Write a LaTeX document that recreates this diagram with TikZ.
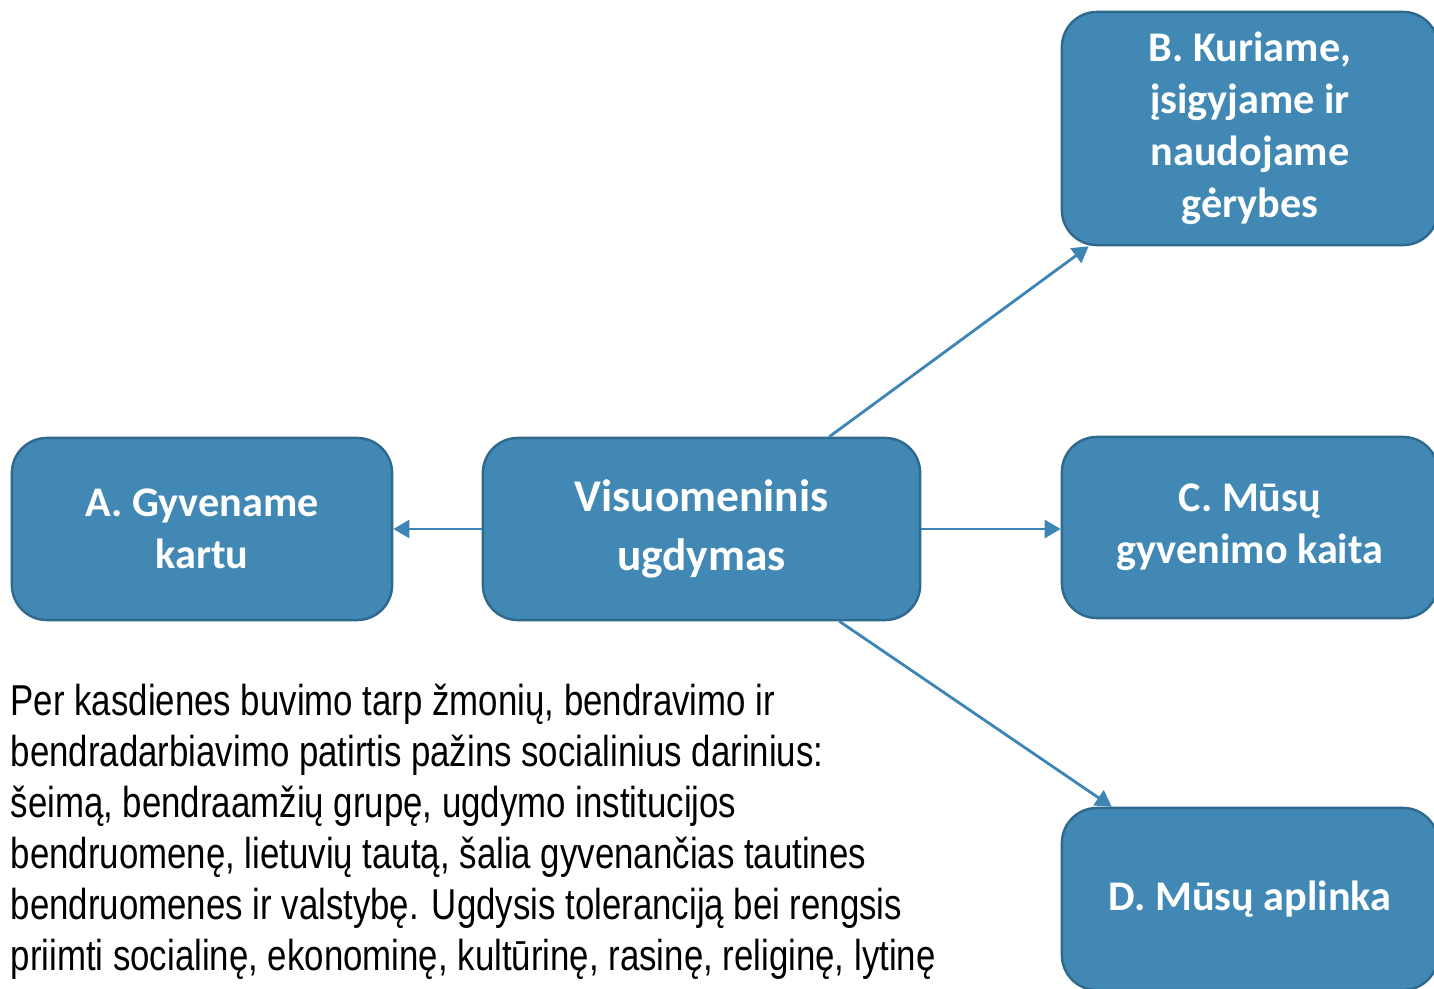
\documentclass[tikz,border=0pt]{standalone}
\usepackage{fontspec}
\setmainfont{Carlito}
\newfontfamily\narrowfont[FakeStretch=0.805]{Liberation Sans}
\usetikzlibrary{arrows.meta,positioning}
\definecolor{boxblue}{HTML}{4189B4}
\definecolor{boxedge}{HTML}{2F6A8E}
\definecolor{arrowblue}{HTML}{3D85B5}
\tikzset{
  topicbox/.style={draw=boxedge,line width=0.7pt,fill=boxblue,rounded corners=0.35cm,
    text=white,font=\bfseries\fontsize{12}{14.8}\selectfont,align=center,inner sep=0pt},
  link/.style={arrowblue,line width=0.8pt,-{Triangle[length=0.16cm,width=0.18cm]}}
}
\begin{document}
\begin{tikzpicture}[x=0.01cm,y=-0.01cm]
                \useasboundingbox (0,0) rectangle (1434,988);
                %% boxes
                \node[topicbox,minimum width=4.37cm,minimum height=1.82cm,
                  font=\bfseries\fontsize{12.9}{17}\selectfont] (mid) at (701.5,529) {Visuomeninis\\ugdymas};
                \node[topicbox,minimum width=3.80cm,minimum height=1.82cm] (a) at (202,529) {A. Gyvename\\kartu};
                \node[topicbox,minimum width=3.76cm,minimum height=2.33cm] (b) at (1250,128.5) {B. Kuriame,\\įsigyjame ir\\naudojame\\gėrybes};
                \node[topicbox,minimum width=3.76cm,minimum height=1.81cm] (c) at (1250,527.5) {C. Mūsų\\gyvenimo kaita};
                \node[topicbox,minimum width=3.76cm,minimum height=1.82cm] (d) at (1250,899) {D. Mūsų aplinka};
                %% arrows
                \draw[link] (mid.west) -- (a.east);
                \draw[link] (mid.east) -- (mid.east -| c.west);
                \draw[link] ([xshift=-0.92cm]mid.north east) -- ([xshift=0.28cm]b.south west);
                \draw[link] ([xshift=-0.82cm]mid.south east) -- ([xshift=0.51cm]d.north west);
                %% description
                \node[anchor=north west,align=left,inner sep=0pt,
                  font=\narrowfont\fontsize{12.3}{14.5}\selectfont] (desc) at (10,683)
                  {Per kasdienes buvimo tarp žmonių, bendravimo ir\\
                   bendradarbiavimo patirtis pažins socialinius darinius:\\
                   šeimą, bendraamžių grupę, ugdymo institucijos\\
                   bendruomenę, lietuvių tautą, šalia gyvenančias tautines\\
                   bendruomenes ir valstybę. Ugdysis toleranciją bei rengsis\\
                   priimti socialinę, ekonominę, kultūrinę, rasinę, religinę, lytinę};
            \end{tikzpicture}
\end{document}
